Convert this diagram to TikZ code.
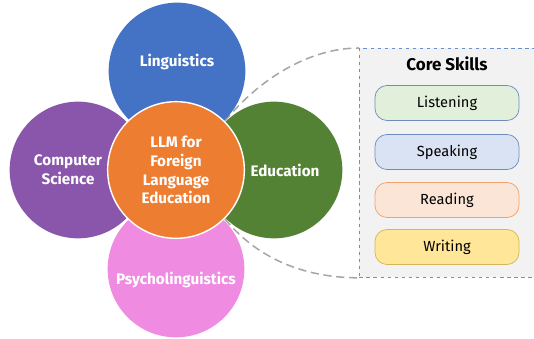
\documentclass[tikz,border=0pt]{standalone}
\usepackage{fontspec}
\setmainfont{Fira Sans}
\usetikzlibrary{positioning,backgrounds}

\definecolor{hubcol}{HTML}{ED7D31}
\definecolor{lingcol}{HTML}{4472C4}
\definecolor{cscol}{HTML}{8A56AC}
\definecolor{educol}{HTML}{548235}
\definecolor{psycol}{HTML}{F08BE2}
\definecolor{boxfill}{HTML}{F2F2F2}
\definecolor{boxline}{HTML}{6A8FD0}
\definecolor{arcline}{HTML}{A6A6A6}
\definecolor{skillblue}{HTML}{6C8EBF}

\begin{document}
\begin{tikzpicture}[x=0.03cm, y=0.03cm,
        field/.style={circle, minimum size=4.1cm, inner sep=0pt, text=white, align=center,
            font=\fontsize{13}{15}\selectfont\bfseries},
        hub/.style={field, fill=hubcol, draw=white, line width=1.2pt},
        tag/.style={text=white, align=center, font=\fontsize{13}{16}\selectfont\bfseries},
        skill/.style={rectangle, rounded corners=0.36cm, draw, line width=0.6pt,
            minimum width=4.32cm, minimum height=1.05cm, font=\fontsize{12.5}{14}\selectfont},
        link/.style={dash pattern=on 7pt off 4pt, draw=arcline, line width=1.3pt}
    ]
        \useasboundingbox (0,0) rectangle (534,339);

        % Skills panel
        \node[draw=boxline, dashed, fill=boxfill, line width=0.7pt, minimum width=5.43cm,
            minimum height=6.87cm, anchor=north west] (skills) at (359,291) {};
        \node[font=\fontsize{14.5}{16}\selectfont\bfseries] (title) at (447,275) {Core Skills};
        \node[skill, fill={rgb,255:red,226;green,239;blue,218}, draw=skillblue] (listen) at (447,236) {Listening};
        \node[skill, fill={rgb,255:red,218;green,227;blue,243}, draw=skillblue] (speak) at (447,187) {Speaking};
        \node[skill, fill={rgb,255:red,251;green,229;blue,214}, draw={rgb,255:red,244;green,160;blue,106}] (read) at (447,139) {Reading};
        \node[skill, fill={rgb,255:red,255;green,230;blue,153}, draw={rgb,255:red,214;green,182;blue,86}] (write) at (447,92) {Writing};

        % Fields
        \node[field, fill=lingcol, label={[tag, yshift=0.27cm]center:Linguistics}] (ling) at (177,268) {};
        \node[field, fill=cscol, label={[tag, xshift=-0.3cm]center:Computer\\Science}] (cs) at (78,169) {};
        \node[field, fill=educol, label={[tag, xshift=0.33cm]center:Education}] (edu) at (274,169) {};
        \node[field, fill=psycol, label={[tag, yshift=-0.33cm]center:Psycholinguistics}] (psy) at (176,70) {};

        % Hub
        \node[hub, font=\fontsize{13}{16}\selectfont\bfseries] (llm) at (176,169) {LLM for\\Foreign\\Language\\Education};

        % Links to the panel
        \begin{scope}[on background layer]
            \draw[link] (llm.45) .. controls +(36,44) and +(-48,0) .. (skills.north west);
            \draw[link] (llm.-45) .. controls +(36,-44) and +(-48,0) .. (skills.south west);
        \end{scope}
    \end{tikzpicture}
\end{document}
